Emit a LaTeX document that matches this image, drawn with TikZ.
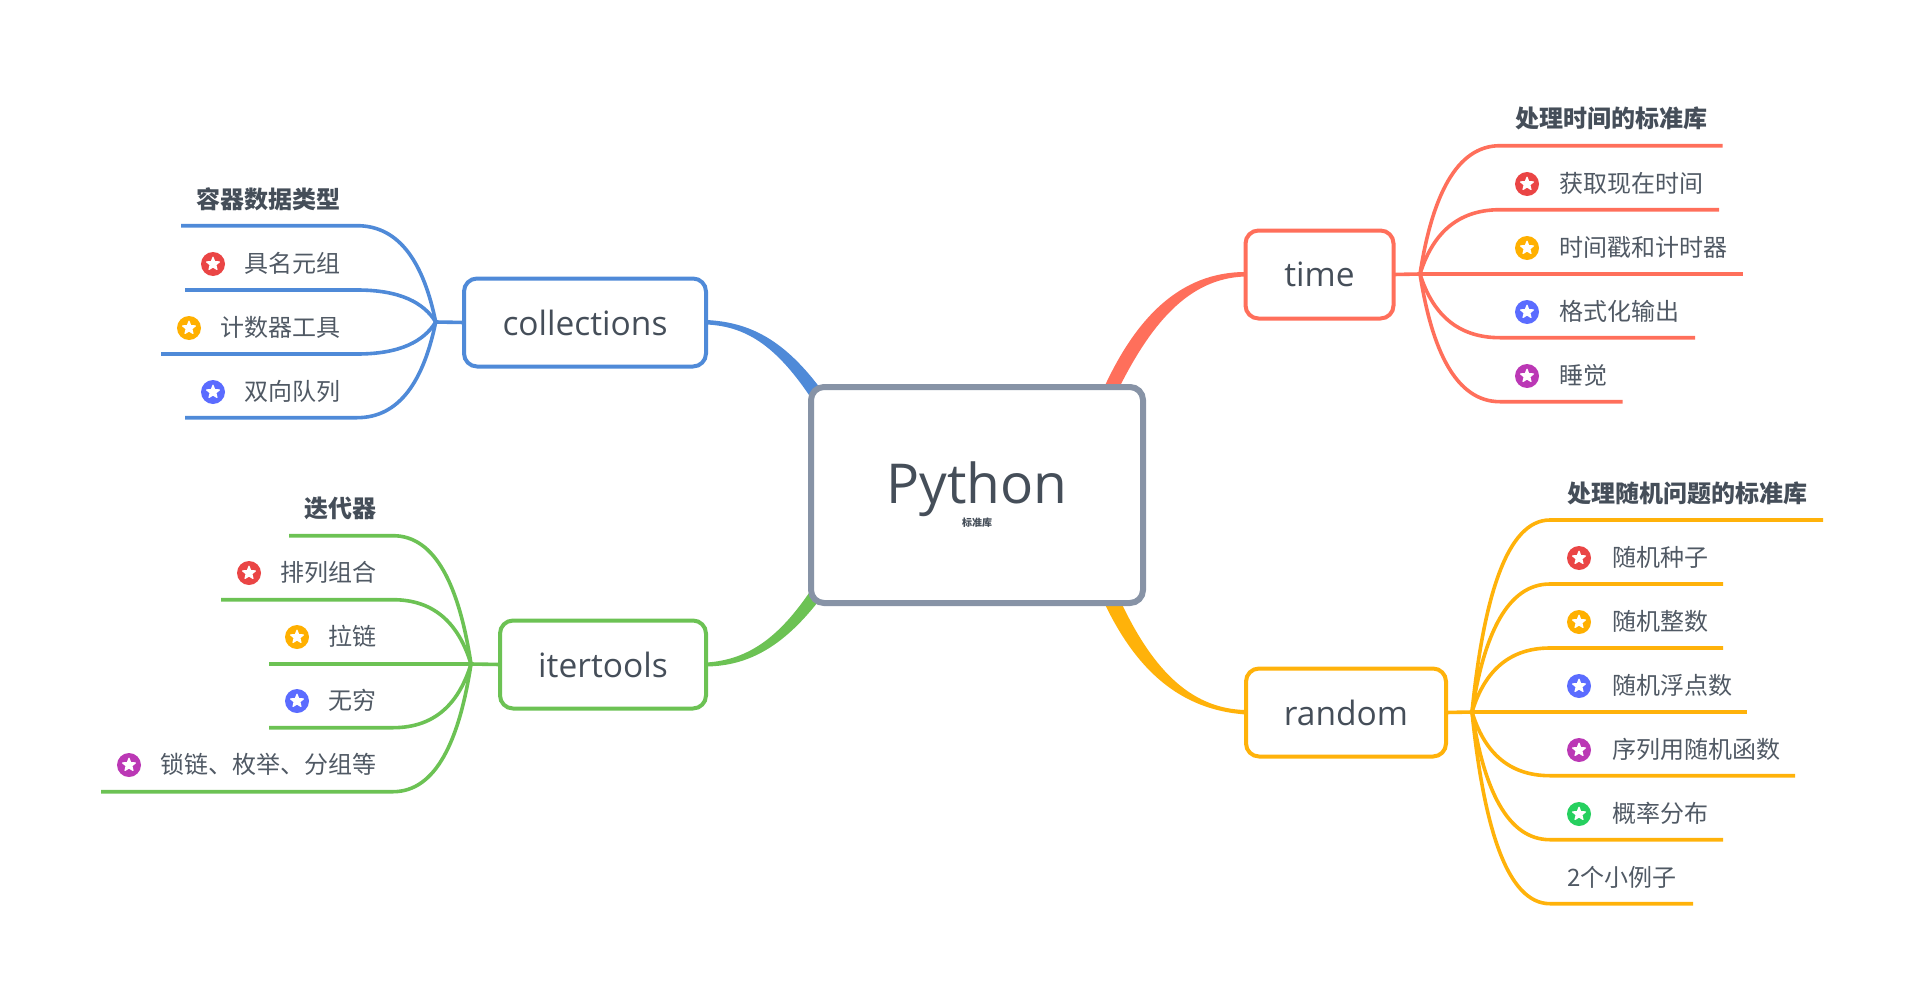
\documentclass[tikz,border=0pt]{standalone}
\usepackage{fontspec}
\setmainfont{Open Sans}
\newfontfamily\cjk{Noto Sans CJK SC}
\usetikzlibrary{calc,shapes.geometric}
\pgfdeclarelayer{bg}
\pgfsetlayers{bg,main}
\definecolor{cblue}{HTML}{4F8AD8}
\definecolor{cgreen}{HTML}{6CC254}
\definecolor{ccoral}{HTML}{FF6F5B}
\definecolor{cyellow}{HTML}{FFB20A}
\definecolor{cframe}{HTML}{8793A6}
\definecolor{ctext}{HTML}{454E59}
\definecolor{clabel}{HTML}{505964}
\definecolor{sred}{HTML}{EA4545}
\definecolor{sorange}{HTML}{FFB000}
\definecolor{sblue}{HTML}{5B6CFF}
\definecolor{spurple}{HTML}{BB38B5}
\definecolor{sgreen}{HTML}{26D05F}
\tikzset{
  rootbox/.style={draw=cframe,line width=6pt,fill=white,rounded corners=13pt,outer sep=0pt,inner sep=0pt,
    minimum width=332pt,minimum height=216pt,align=center,text=ctext},
  topicbox/.style={line width=4pt,fill=white,rounded corners=13pt,outer sep=0pt,inner sep=0pt,
    minimum height=88pt,text=ctext,font=\fontsize{33.5}{40}\selectfont},
  branchline/.style={line width=3.6pt,line cap=butt},
  leaf/.style={inner sep=0pt,outer sep=0pt,text=clabel,text height=20pt,text depth=4pt,font=\fontsize{24}{28}\selectfont\cjk},
  leafhead/.style={leaf,text=ctext,font=\fontsize{24}{28}\selectfont\cjk\bfseries},
  iconball/.style={circle,inner sep=0pt,outer sep=0pt,minimum size=24pt},
  iconstar/.style={star,star points=5,star point ratio=2.3,fill=white,draw=white,line width=1.2pt,line join=round,
    inner sep=0pt,outer sep=0pt,minimum size=13.5pt}
}
\newcommand{\branch}[4]{%
  \draw[branchline,#1] let \p1=(#2),\p2=(#3) in
    (\p1) .. controls (\x1+0.15*\x2-0.15*\x1,\y1+0.6*\y2-0.6*\y1) and (\x1+0.45*\x2-0.45*\x1,\y2) .. (\p2) -- (#4);}
\newcommand{\icon}[4]{%
  \node[iconball,fill=#2] (#1) at (#3,#4) {};
  \node[iconstar] (#1s) at (#1) {};}
\newcommand{\leafline}[6]{% colour, hub, name, knee x, far x, y
  \coordinate (#3k) at (#4,#6);
  \coordinate (#3e) at (#5,#6);
  \branch{#1}{#2}{#3k}{#3e}}
\begin{document}
\begin{tikzpicture}[x=1pt,y=-1pt]
\useasboundingbox (0,0) rectangle (1924,1006);
% root and topics
\node[rootbox] (root) at (977,495) {\fontsize{55}{74}\selectfont Python\\\cjk\bfseries 标准库};
\node[topicbox,draw=ccoral,minimum width=148pt] (time) at (1319.5,274.5) {time};
\node[topicbox,draw=cyellow,minimum width=200pt] (random) at (1346,712.5) {random};
\node[topicbox,draw=cblue,minimum width=242pt] (coll) at (585,322.5) {collections};
\node[topicbox,draw=cgreen,minimum width=206pt] (iter) at (603,664.5) {itertools};
% tapered connectors
\begin{pgfonlayer}{bg}
\fill[ccoral] ($(time.west)+(0,-2.5)$) .. controls (1180,272) and (1135,318) .. ($(root.north)+(125,5)$)
  -- ($(root.north)+(140,5)$) .. controls (1150,325) and (1188,278) .. ($(time.west)+(0,2)$) -- cycle;
\fill[cyellow] ($(random.west)+(0,2)$) .. controls (1180,710) and (1135,670) .. ($(root.south)+(125,-5)$)
  -- ($(root.south)+(142,-5)$) .. controls (1150,665) and (1188,709) .. ($(random.west)+(0,-2.5)$) -- cycle;
\fill[cblue] ($(coll.east)+(0,-2.5)$) .. controls (750,322) and (785,340) .. ($(root.north west)+(12,5)$)
  -- ($(root.north west)+(-2,8)$) .. controls (775,345) and (745,326) .. ($(coll.east)+(0,2)$) -- cycle;
\fill[cgreen] ($(iter.east)+(0,2)$) .. controls (750,666) and (785,645) .. ($(root.south west)+(10,-5)$)
  -- ($(root.south west)+(-2,-10)$) .. controls (780,635) and (750,660) .. ($(iter.east)+(0,-2)$) -- cycle;
\end{pgfonlayer}
% hubs
\coordinate (thub) at (1420,274);
\coordinate (rhub) at (1472,712);
\coordinate (chub) at (435.7,322);
\coordinate (ihub) at (471,664);
\draw[branchline,ccoral] (time.east) -- (thub);
\draw[branchline,cyellow] (random.east) -- (rhub);
\draw[branchline,cblue] (coll.west) -- (chub);
\draw[branchline,cgreen] (iter.west) -- (ihub);
% time
\leafline{ccoral}{thub}{ta}{1500}{1722.7}{145.7}
\leafline{ccoral}{thub}{tb}{1500}{1719}{209.7}
\leafline{ccoral}{thub}{tc}{1500}{1743}{274}
\leafline{ccoral}{thub}{td}{1500}{1695}{337.7}
\leafline{ccoral}{thub}{te}{1500}{1622.7}{401.7}
\node[leafhead,anchor=west] (tla) at (1515,120) {处理时间的标准库};
\icon{tib}{sred}{1527}{184} \node[leaf,anchor=west] (tlb) at (1559,184) {获取现在时间};
\icon{tic}{sorange}{1527}{248} \node[leaf,anchor=west] (tlc) at (1559,248) {时间戳和计时器};
\icon{tid}{sblue}{1527}{312} \node[leaf,anchor=west] (tld) at (1559,312) {格式化输出};
\icon{tie}{spurple}{1527}{376} \node[leaf,anchor=west] (tle) at (1559,376) {睡觉};
% random
\leafline{cyellow}{rhub}{ra}{1550}{1823}{520}
\leafline{cyellow}{rhub}{rb}{1550}{1723}{584}
\leafline{cyellow}{rhub}{rc}{1550}{1723}{648}
\leafline{cyellow}{rhub}{rd}{1550}{1747}{712}
\leafline{cyellow}{rhub}{re}{1550}{1795}{775.7}
\leafline{cyellow}{rhub}{rf}{1550}{1723}{839.7}
\leafline{cyellow}{rhub}{rg}{1550}{1693}{903.7}
\node[leafhead,anchor=west] (rla) at (1567,494) {处理随机问题的标准库};
\icon{rib}{sred}{1579}{558} \node[leaf,anchor=west] (rlb) at (1612,558) {随机种子};
\icon{ric}{sorange}{1579}{622} \node[leaf,anchor=west] (rlc) at (1612,622) {随机整数};
\icon{rid}{sblue}{1579}{686} \node[leaf,anchor=west] (rld) at (1612,686) {随机浮点数};
\icon{rie}{spurple}{1579}{750} \node[leaf,anchor=west] (rle) at (1612,750) {序列用随机函数};
\icon{rif}{sgreen}{1579}{814} \node[leaf,anchor=west] (rlf) at (1612,814) {概率分布};
\node[leaf,anchor=west] (rlg) at (1567,878) {2个小例子};
% collections
\leafline{cblue}{chub}{ca}{357}{181}{225.7}
\leafline{cblue}{chub}{cb}{357}{185}{290}
\leafline{cblue}{chub}{cc}{357}{161}{354}
\leafline{cblue}{chub}{cd}{357}{185}{417.7}
\node[leafhead,anchor=east] (cla) at (340,200) {容器数据类型};
\icon{cib}{sred}{213}{264} \node[leaf,anchor=east] (clb) at (340,264) {具名元组};
\icon{cic}{sorange}{189}{328} \node[leaf,anchor=east] (clc) at (340,328) {计数器工具};
\icon{cid}{sblue}{213}{392} \node[leaf,anchor=east] (cld) at (340,392) {双向队列};
% itertools
\leafline{cgreen}{ihub}{ia}{393}{289}{535.7}
\leafline{cgreen}{ihub}{ib}{393}{221}{599.7}
\leafline{cgreen}{ihub}{ic}{393}{269}{664}
\leafline{cgreen}{ihub}{id}{393}{269}{727.7}
\leafline{cgreen}{ihub}{ie}{393}{101}{791.7}
\node[leafhead,anchor=east] (ila) at (376,509) {迭代器};
\icon{iib}{sred}{249}{573} \node[leaf,anchor=east] (ilb) at (376,573) {排列组合};
\icon{iic}{sorange}{297}{637} \node[leaf,anchor=east] (ilc) at (376,637) {拉链};
\icon{iid}{sblue}{297}{701} \node[leaf,anchor=east] (ild) at (376,701) {无穷};
\icon{iie}{spurple}{129}{765} \node[leaf,anchor=east] (ile) at (376,765) {锁链、枚举、分组等};
\end{tikzpicture}
\end{document}
